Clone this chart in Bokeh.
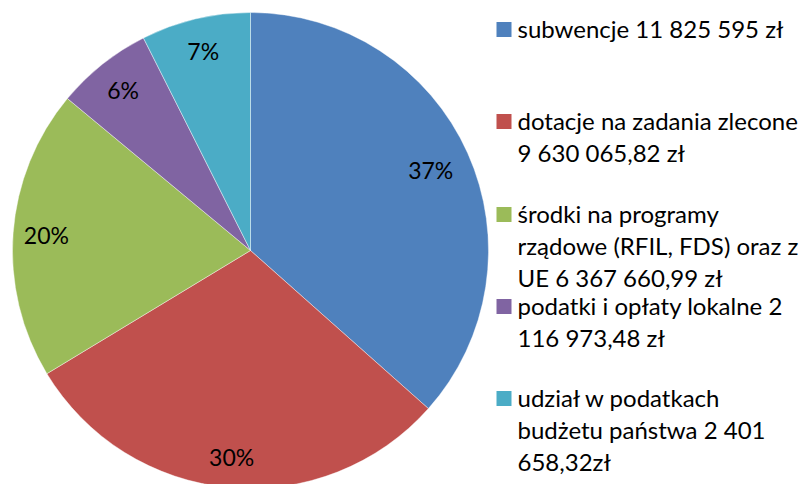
import math
from bokeh.plotting import figure
from bokeh.models import Range1d, ColumnDataSource
from bokeh.core.properties import value
from bokeh.embed import file_html
from bokeh.resources import INLINE

# ---- data ----
categories = ["subwencje", "dotacje na zadania zlecone", "środki na programy rządowe",
              "podatki i opłaty lokalne", "udział w podatkach budżetu państwa"]
amounts = [11825595.00, 9630065.82, 6367660.99, 2116973.48, 2401658.32]
pct_labels = ["37%", "30%", "20%", "6%", "7%"]
legend_lines = [
    ["subwencje 11 825 595 zł"],
    ["dotacje na zadania zlecone", "9 630 065,82 zł"],
    ["środki na programy", "rządowe (RFIL, FDS) oraz z", "UE 6 367 660,99 zł"],
    ["podatki i opłaty  lokalne 2", "116 973,48 zł"],
    ["udział w podatkach", "budżetu państwa 2 401", "658,32zł"],
]
colors = ["#4F81BD", "#C0504D", "#9BBB59", "#8064A2", "#4BACC6"]

# ---- layout (picture px) ----
W, H = 809, 484
def dx(sx): return sx
def dy(sy): return H - sy

cx, cy, R = dx(250), dy(250), 238
label_r = [0.83, 0.87, 0.86, 0.86, 0.86]
legend_first_y = [28, 120, 213, 305, 397]
line_h = 32
FONT = "Lato"

p = figure(width=W, height=H, output_backend="svg", toolbar_location=None,
           x_range=Range1d(0, W), y_range=Range1d(0, H), min_border=0)
p.axis.visible = False
p.grid.visible = False
p.outline_line_color = None
p.background_fill_color = "white"
p.border_fill_color = "white"

total = sum(amounts)
fr = [a / total for a in amounts]
cum = [0.0]
for f in fr:
    cum.append(cum[-1] + f)
starts = [math.pi / 2 - 2 * math.pi * cum[i + 1] for i in range(len(fr))]
ends = [math.pi / 2 - 2 * math.pi * cum[i] for i in range(len(fr))]
src = ColumnDataSource(dict(start=starts, end=ends, color=colors))
p.wedge(x=cx, y=cy, radius=R, start_angle="start", end_angle="end",
        direction="anticlock", fill_color="color", line_color="white",
        line_width=0.6, line_alpha=0.7, source=src)

# percentage labels
mids = [math.pi / 2 - 2 * math.pi * (cum[i] + fr[i] / 2) for i in range(len(fr))]
lx = [cx + label_r[i] * R * math.cos(m) for i, m in enumerate(mids)]
ly = [cy + label_r[i] * R * math.sin(m) for i, m in enumerate(mids)]
p.text(x=lx, y=ly, text=pct_labels, text_align="center", text_baseline="middle",
       text_font=value(FONT), text_font_size="23px", text_color="#000000")

# legend
sq_x, txt_x = dx(503.5), dx(517)
tx, ty, tt = [], [], []
for i, lines in enumerate(legend_lines):
    for j, line in enumerate(lines):
        tx.append(txt_x)
        ty.append(dy(legend_first_y[i] + j * line_h))
        tt.append(line)
p.rect(x=[sq_x] * len(colors), y=[dy(v + 1) for v in legend_first_y], width=15, height=15,
       fill_color=colors, line_color=None)
p.text(x=tx, y=ty, text=tt, text_align="left", text_baseline="middle",
       text_font=value(FONT), text_font_size="24px", text_color="#000000")

open("out.html", "w").write(file_html(p, INLINE))
